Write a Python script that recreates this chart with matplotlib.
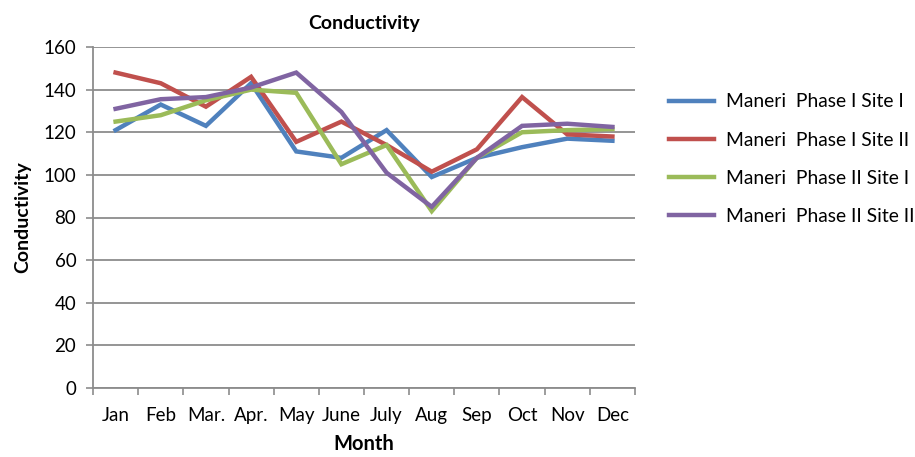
import numpy as np
import matplotlib
matplotlib.use("Agg")
import matplotlib.pyplot as plt
from matplotlib.ticker import FixedLocator

plt.rcParams['font.family'] = ['Lato', 'DejaVu Sans']

months = ["Jan", "Feb", "Mar.", "Apr.", "May", "June", "July", "Aug", "Sep", "Oct", "Nov", "Dec"]

phase1_site1 = [121, 133, 123, 143, 111, 108, 121, 99, 108, 113, 117, 116]
phase1_site2 = [148, 143, 132, 146, 115.5, 125, 114, 101.5, 112, 136.5, 119, 118]
phase2_site1 = [125, 128, 135, 140, 138.5, 105, 114, 83, 108, 120, 121, 121.5]
phase2_site2 = [131, 135.5, 136.5, 141, 148, 129.5, 101, 85, 108, 123, 124, 122.5]

series = [
    ("Maneri  Phase I Site I", phase1_site1, "#4F81BD"),
    ("Maneri  Phase I Site II", phase1_site2, "#C0504D"),
    ("Maneri  Phase II Site I", phase2_site1, "#9BBB59"),
    ("Maneri  Phase II Site II", phase2_site2, "#8064A2"),
]

fig = plt.figure(figsize=(9.15, 4.57), dpi=100)
ax = fig.add_axes([93 / 915, 1 - 388 / 457, 542 / 915, 341 / 457])

x = np.arange(len(months))
for label, vals, color in series:
    ax.plot(x, vals, color=color, linewidth=3.2, label=label, solid_joinstyle='miter')

ax.set_xlim(-0.5, len(months) - 0.5)
ax.set_ylim(0, 160)
ax.set_yticks(range(0, 161, 20))
ax.yaxis.grid(True, color="#8c8c8c", linewidth=1.3)
ax.set_axisbelow(True)

ax.set_xticks(x)
ax.set_xticklabels(months)
ax.xaxis.set_minor_locator(FixedLocator(np.arange(-0.5, len(months), 1)))
ax.tick_params(axis='x', which='major', length=0, labelsize=13.5, pad=14)
ax.tick_params(axis='x', which='minor', length=5, width=1.2, color="#8c8c8c", direction='out')
ax.tick_params(axis='y', length=5, width=1.2, color="#8c8c8c", labelsize=13.5, pad=7)

for side in ["top", "right"]:
    ax.spines[side].set_visible(False)
for side in ["left", "bottom"]:
    ax.spines[side].set_color("#8c8c8c")
    ax.spines[side].set_linewidth(1.3)

ax.set_title("Conductivity", fontsize=14, fontweight='bold', pad=13)
ax.set_xlabel("Month", fontsize=14.5, fontweight='bold', labelpad=7)
ax.set_ylabel("Conductivity", fontsize=14, fontweight='bold', labelpad=9)

ax.legend(loc='upper left', bbox_to_anchor=(1.056, 0.875), frameon=False,
          fontsize=13.9, handlelength=2.3, labelspacing=1.1, handletextpad=0.62,
          borderaxespad=0, borderpad=0.2)

fig.savefig("out.png", dpi=100)
